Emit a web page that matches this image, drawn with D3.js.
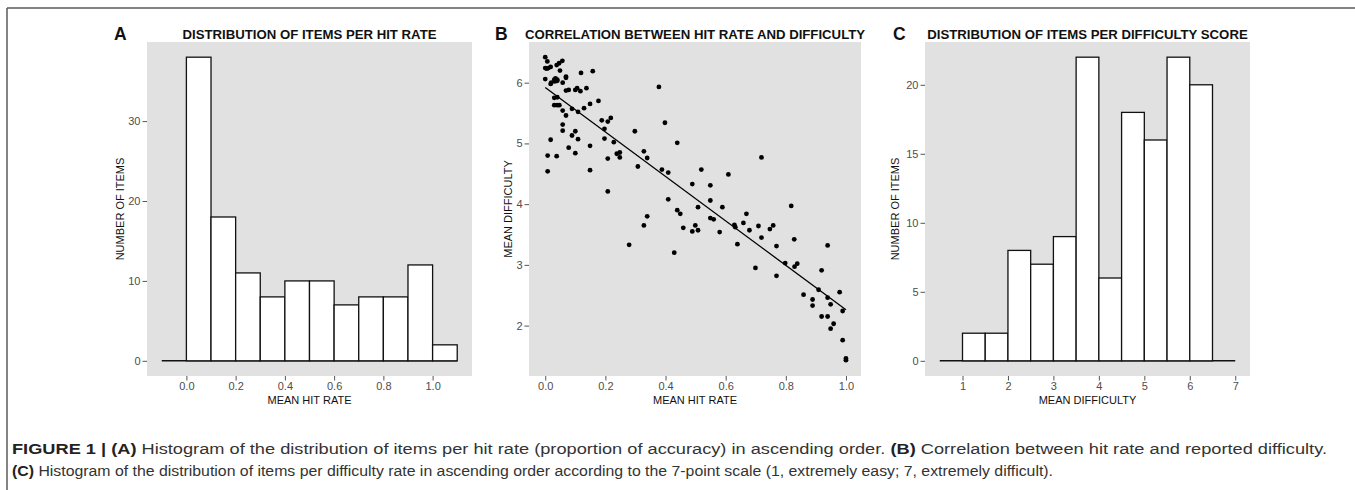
<!DOCTYPE html>
<html>
<head>
<meta charset="utf-8">
<script src="https://cdn.jsdelivr.net/npm/d3@7/dist/d3.min.js"></script>
<style>
  body { margin: 0; background: #fff; }
  svg { display: block; }
  .tick text { font-family: "Liberation Sans", Arial, sans-serif; font-size: 11px; fill: #4d4d4d; }
  .tick line { stroke: #555; }
</style>
</head>
<body>
<div id="chart"></div>
<script>
// panel A - hit rate histogram (bin width 0.1)
var hitBinStart = [-0.1, 0.0, 0.1, 0.2, 0.3, 0.4, 0.5, 0.6, 0.7, 0.8, 0.9, 1.0];
var hitCounts   = [0, 38, 18, 11, 8, 10, 10, 7, 8, 8, 12, 2];
var hitTicks = [0.0, 0.2, 0.4, 0.6, 0.8, 1.0];
var countTicksA = [0, 10, 20, 30];

// panel B - hit rate vs mean difficulty, one point per item
var hitRate = [0.000, 0.007, 0.000, 0.005, 0.010, 0.018, 0.000, 0.018, 0.020, 0.030, 0.040, 0.032, 0.040,
  0.038, 0.046, 0.057, 0.049, 0.058, 0.069, 0.069, 0.030, 0.040, 0.030, 0.040, 0.047, 0.058, 0.069,
  0.069, 0.078, 0.100, 0.106, 0.117, 0.137, 0.119, 0.158, 0.129, 0.149, 0.177, 0.089, 0.109, 0.058,
  0.058, 0.018, 0.078, 0.089, 0.100, 0.109, 0.100, 0.008, 0.038, 0.008, 0.149, 0.149, 0.188, 0.208,
  0.218, 0.197, 0.197, 0.228, 0.208, 0.238, 0.248, 0.248, 0.208, 0.298, 0.328, 0.339, 0.308, 0.328,
  0.339, 0.279, 0.378, 0.398, 0.388, 0.409, 0.439, 0.409, 0.439, 0.449, 0.459, 0.429, 0.489, 0.489,
  0.499, 0.508, 0.508, 0.519, 0.549, 0.549, 0.549, 0.560, 0.580, 0.589, 0.609, 0.629, 0.632, 0.639,
  0.659, 0.669, 0.679, 0.699, 0.709, 0.719, 0.719, 0.747, 0.758, 0.769, 0.769, 0.798, 0.818, 0.828,
  0.829, 0.838, 0.859, 0.889, 0.889, 0.919, 0.939, 0.909, 0.939, 0.949, 0.919, 0.939, 0.959, 0.949,
  0.979, 0.989, 0.989, 1.000, 1.000, 0.034, 0.036];
var difficulty = [6.42, 6.35, 6.24, 6.23, 6.24, 6.26, 6.06, 5.98, 6.00, 6.05, 6.05, 6.02, 6.03,
  6.29, 6.32, 6.36, 6.20, 6.00, 6.10, 6.08, 5.75, 5.76, 5.63, 5.63, 5.63, 5.54, 5.46,
  5.87, 5.88, 5.88, 5.91, 5.86, 5.91, 6.16, 6.19, 5.58, 5.65, 5.70, 5.57, 5.52, 5.31,
  5.21, 5.06, 4.93, 5.13, 5.20, 5.07, 4.84, 4.80, 4.79, 4.54, 4.96, 4.56, 5.38, 5.36,
  5.42, 5.24, 5.08, 5.02, 4.75, 4.83, 4.85, 4.77, 4.21, 5.20, 4.87, 4.76, 4.62, 3.65,
  3.80, 3.33, 5.93, 5.34, 4.57, 4.52, 5.01, 4.08, 3.90, 3.84, 3.61, 3.20, 4.33, 3.55,
  3.65, 3.57, 3.95, 4.57, 4.31, 4.06, 3.77, 3.75, 3.54, 3.95, 4.49, 3.66, 3.62, 3.34,
  3.69, 3.84, 3.57, 2.95, 3.64, 4.77, 3.45, 3.59, 3.65, 3.31, 2.82, 3.03, 3.97, 3.42,
  2.97, 3.02, 2.51, 2.43, 2.33, 2.91, 3.32, 2.59, 2.46, 2.35, 2.15, 2.15, 2.03, 1.95,
  2.55, 2.24, 1.76, 1.46, 1.43, 6.07, 6.04];
// fitted line end points
var fitHit = [0.0, 1.0];
var fitDifficulty = [5.92, 2.26];
var diffTicksB = [2, 3, 4, 5, 6];

// panel C - difficulty histogram (bin width 0.5)
var diffBinStart = [0.5, 1.0, 1.5, 2.0, 2.5, 3.0, 3.5, 4.0, 4.5, 5.0, 5.5, 6.0, 6.5];
var diffCounts   = [0, 2, 2, 8, 7, 9, 22, 6, 18, 16, 22, 20, 0];
var diffTicksC = [1, 2, 3, 4, 5, 6, 7];
var countTicksC = [0, 5, 10, 15, 20];

var W = 1355, H = 490;
var plotTop = 42, plotBottom = 376;
var FONT = '"Liberation Sans", Arial, sans-serif';

var svg = d3.select('#chart').append('svg')
    .attr('width', W)
    .attr('height', H);

// figure frame (top and left rules)
svg.append('line').attr('x1', 7).attr('x2', W).attr('y1', 8).attr('y2', 8)
    .attr('stroke', '#5a5a5a').attr('stroke-width', 1.5);
svg.append('line').attr('x1', 7).attr('x2', 7).attr('y1', 8).attr('y2', H)
    .attr('stroke', '#5a5a5a').attr('stroke-width', 1.5);

function panel(opts) {
  var x = d3.scaleLinear().domain(opts.xDomain).range([opts.left, opts.right]);
  var y = d3.scaleLinear().domain(opts.yDomain).range([plotBottom, plotTop]);
  var g = svg.append('g');

  g.append('rect')
    .attr('x', opts.left).attr('y', plotTop)
    .attr('width', opts.right - opts.left).attr('height', plotBottom - plotTop)
    .attr('fill', '#e1e1e1');

  g.append('g')
    .attr('transform', 'translate(' + opts.left + ',0)')
    .call(d3.axisLeft(y).tickValues(opts.yTicks).tickSize(4.5).tickPadding(2).tickFormat(opts.yFormat))
    .call(function(a) { a.select('.domain').remove(); });

  g.append('g')
    .attr('transform', 'translate(0,' + plotBottom + ')')
    .call(d3.axisBottom(x).tickValues(opts.xTicks).tickSize(4.5).tickPadding(2).tickFormat(opts.xFormat))
    .call(function(a) { a.select('.domain').remove(); });

  var cx = (opts.left + opts.right) / 2;
  g.append('text')
    .attr('x', cx).attr('y', 38.5)
    .attr('text-anchor', 'middle')
    .style('font-family', FONT).style('font-size', '13.2px').style('font-weight', 'bold')
    .attr('fill', '#111')
    .text(opts.title);
  g.append('text')
    .attr('x', opts.letterX).attr('y', 39.5)
    .style('font-family', FONT).style('font-size', '17.5px').style('font-weight', 'bold')
    .attr('fill', '#111')
    .text(opts.letter);
  g.append('text')
    .attr('x', cx).attr('y', 404)
    .attr('text-anchor', 'middle')
    .style('font-family', FONT).style('font-size', '11px')
    .attr('fill', '#111')
    .text(opts.xTitle);
  g.append('text')
    .attr('transform', 'translate(' + opts.yTitleX + ',' + ((plotTop + plotBottom) / 2) + ') rotate(-90)')
    .attr('text-anchor', 'middle')
    .style('font-family', FONT).style('font-size', '11px')
    .attr('fill', '#111')
    .text(opts.yTitle);

  return { g: g, x: x, y: y };
}

function histogram(p, starts, counts, width) {
  p.g.append('line')
    .attr('x1', p.x(starts[0])).attr('x2', p.x(starts[starts.length - 1] + width))
    .attr('y1', p.y(0)).attr('y2', p.y(0))
    .attr('stroke', '#111').attr('stroke-width', 1.5);
  p.g.selectAll('rect.bar')
    .data(starts.map(function(s, i) { return { x0: s, n: counts[i] }; })
      .filter(function(d) { return d.n > 0; }))
    .enter().append('rect')
    .attr('class', 'bar')
    .attr('x', function(d) { return p.x(d.x0); })
    .attr('width', function(d) { return p.x(d.x0 + width) - p.x(d.x0); })
    .attr('y', function(d) { return p.y(d.n); })
    .attr('height', function(d) { return p.y(0) - p.y(d.n); })
    .attr('fill', '#fff')
    .attr('stroke', '#111')
    .attr('stroke-width', 1.3);
}

var fmt1 = d3.format('.1f');

var pA = panel({
  left: 147, right: 472, xDomain: [-0.16, 1.16], yDomain: [-1.9, 39.9],
  xTicks: hitTicks, yTicks: countTicksA, xFormat: fmt1, yFormat: d3.format('d'),
  title: 'DISTRIBUTION OF ITEMS PER HIT RATE', letter: 'A', letterX: 114,
  xTitle: 'MEAN HIT RATE', yTitle: 'NUMBER OF ITEMS', yTitleX: 124
});
histogram(pA, hitBinStart, hitCounts, 0.1);

var pB = panel({
  left: 529, right: 861, xDomain: [-0.054, 1.05], yDomain: [1.17, 6.67],
  xTicks: hitTicks, yTicks: diffTicksB, xFormat: fmt1, yFormat: d3.format('d'),
  title: 'CORRELATION BETWEEN HIT RATE AND DIFFICULTY', letter: 'B', letterX: 495,
  xTitle: 'MEAN HIT RATE', yTitle: 'MEAN DIFFICULTY', yTitleX: 512
});
pB.g.selectAll('circle')
  .data(hitRate.map(function(h, i) { return [h, difficulty[i]]; }))
  .enter().append('circle')
  .attr('cx', function(d) { return pB.x(d[0]); })
  .attr('cy', function(d) { return pB.y(d[1]); })
  .attr('r', 2.4)
  .attr('fill', '#000');
pB.g.append('path')
  .datum(fitHit.map(function(h, i) { return [h, fitDifficulty[i]]; }))
  .attr('d', d3.line().x(function(d) { return pB.x(d[0]); }).y(function(d) { return pB.y(d[1]); }))
  .attr('fill', 'none')
  .attr('stroke', '#000')
  .attr('stroke-width', 1.3);

var pC = panel({
  left: 925, right: 1250, xDomain: [0.175, 7.325], yDomain: [-1.1, 23.1],
  xTicks: diffTicksC, yTicks: countTicksC, xFormat: d3.format('d'), yFormat: d3.format('d'),
  title: 'DISTRIBUTION OF ITEMS PER DIFFICULTY SCORE', letter: 'C', letterX: 893,
  xTitle: 'MEAN DIFFICULTY', yTitle: 'NUMBER OF ITEMS', yTitleX: 899
});
histogram(pC, diffBinStart, diffCounts, 0.5);

// caption
var CAP = '"Liberation Sans Narrow", "Arial Narrow", "Liberation Sans", Arial, sans-serif';
var cap1 = svg.append('text')
    .attr('x', 12).attr('y', 454)
    .attr('textLength', 1315).attr('lengthAdjust', 'spacingAndGlyphs')
    .style('font-family', CAP).style('font-size', '15.5px').attr('fill', '#333');
cap1.append('tspan').style('font-weight', 'bold').attr('fill', '#222').text('FIGURE 1 | (A)');
cap1.append('tspan').text(' Histogram of the distribution of items per hit rate (proportion of accuracy) in ascending order. ');
cap1.append('tspan').style('font-weight', 'bold').attr('fill', '#222').text('(B)');
cap1.append('tspan').text(' Correlation between hit rate and reported difficulty.');

var cap2 = svg.append('text')
    .attr('x', 12).attr('y', 476)
    .attr('textLength', 1041).attr('lengthAdjust', 'spacingAndGlyphs')
    .style('font-family', CAP).style('font-size', '15.5px').attr('fill', '#333');
cap2.append('tspan').style('font-weight', 'bold').attr('fill', '#222').text('(C)');
cap2.append('tspan').text(' Histogram of the distribution of items per difficulty rate in ascending order according to the 7-point scale (1, extremely easy; 7, extremely difficult).');
</script>
</body>
</html>
